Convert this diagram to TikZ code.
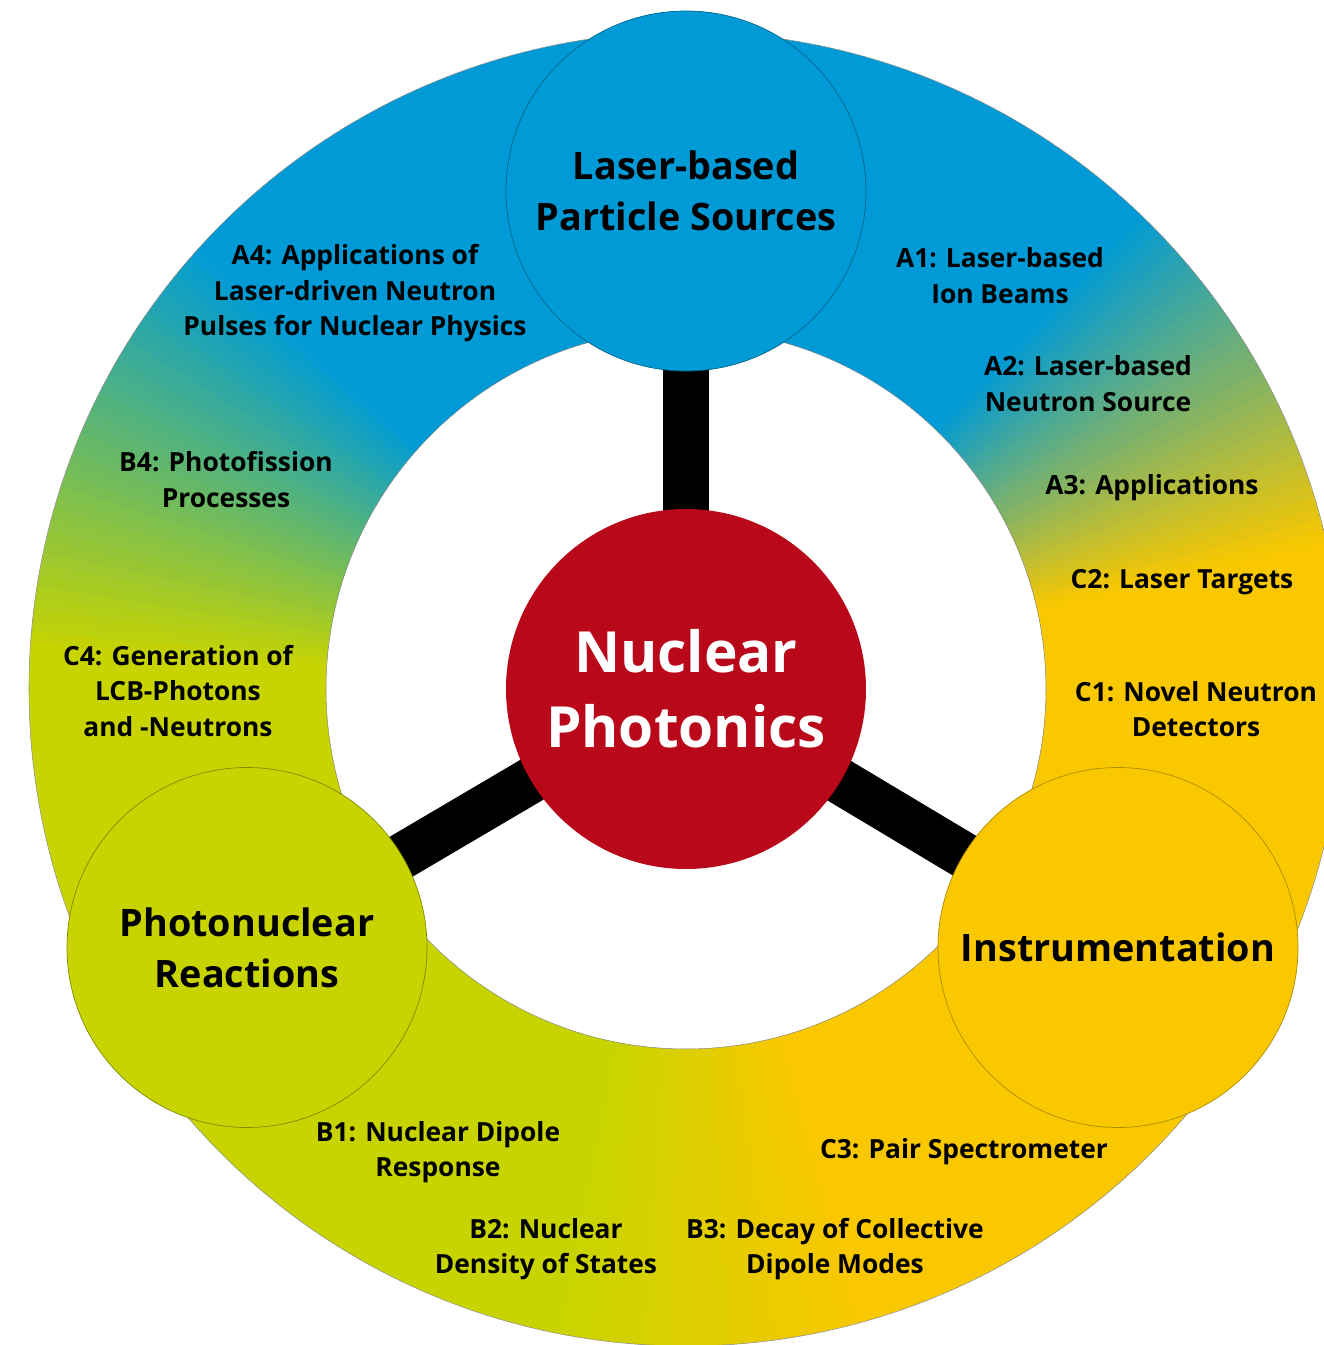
\documentclass[tikz,border=0pt]{standalone}
\usepackage{fontspec}
\setmainfont{Open Sans}
\usetikzlibrary{positioning}

\definecolor{npblue}{RGB}{0,155,214}
\definecolor{npgreen}{RGB}{200,212,0}
\definecolor{npyellow}{RGB}{249,200,0}
\definecolor{npred}{RGB}{185,8,26}

\pgfdeclarelayer{background}
\pgfsetlayers{background,main}

% colour of the ring at angle #1 (degrees)
\newcommand{\ringcolour}[1]{%
  \pgfmathtruncatemacro\zone{#1<12 ? 0 : (#1<46 ? 1 : (#1<137 ? 2 : (#1<176 ? 3 : (#1<258 ? 4 : (#1<285 ? 5 : 0)))))}%
  \ifcase\zone
    \colorlet{ringcol}{npyellow}%
  \or
    \pgfmathtruncatemacro\mix{100*(#1-12)/34}\colorlet{ringcol}{npblue!\mix!npyellow}%
  \or
    \colorlet{ringcol}{npblue}%
  \or
    \pgfmathtruncatemacro\mix{100*(#1-137)/39}\colorlet{ringcol}{npgreen!\mix!npblue}%
  \or
    \colorlet{ringcol}{npgreen}%
  \or
    \pgfmathtruncatemacro\mix{100*(#1-258)/27}\colorlet{ringcol}{npyellow!\mix!npgreen}%
  \fi}

\begin{document}
\begin{tikzpicture}[
  hub/.style={circle, minimum size=7.2cm, inner sep=0pt, align=center, line width=0.4pt,
    font=\fontsize{21.5}{29}\selectfont\bfseries},
  topic/.style={align=center, inner sep=0pt, font=\fontsize{15}{20.2}\selectfont\bfseries},
  link/.style={line width=0.92cm}
]
\useasboundingbox (-13.72,-13.12) rectangle (12.74,13.78);

% the ring, one degree at a time
\foreach \a in {0,...,359}{
  \ringcolour{\a}
  \fill[ringcol] (\a:7.2) arc[start angle=\a, end angle=\a+1.6, radius=7.2]
    -- (\a+1.6:13.14) arc[start angle=\a+1.6, end angle=\a, radius=13.14] -- cycle;
}
\draw[black!45, line width=0.3pt] (0,0) circle (13.14) (0,0) circle (7.2);

% hubs
\node[hub, fill=npred, text=white, font=\fontsize{32.3}{42.5}\selectfont\bfseries] (np) at (0,0) {Nuclear\\Photonics};
\node[hub, fill=npblue, draw=npblue!65!black] (lps) at (0,9.96) {Laser-based\\Particle Sources};
\node[hub, fill=npgreen, draw=npgreen!65!black] (phr) at (-8.78,-5.17) {Photonuclear\\Reactions};
\node[hub, fill=npyellow, draw=npyellow!70!black] (ins) at (8.64,-5.17) {Instrumentation};

\begin{pgfonlayer}{background}
\foreach \s in {lps,phr,ins}
  \draw[link] (np.center) -- (\s.center);
\end{pgfonlayer}

% projects
\node[topic] (a1) at (6.28,8.27) {A1: Laser-based\\Ion Beams};
\node[topic] (a2) at (8.04,6.11) {A2: Laser-based\\Neutron Source};
\node[topic] (a3) at (9.32,4.02) {A3: Applications};
\node[topic] (a4) at (-6.62,7.91) {A4: Applications of\\Laser-driven Neutron\\Pulses for Nuclear Physics};
\node[topic] (b1) at (-4.96,-9.26) {B1: Nuclear Dipole\\Response};
\node[topic] (b2) at (-2.8,-11.2) {B2: Nuclear\\Density of States};
\node[topic] (b3) at (2.98,-11.2) {B3: Decay of Collective\\Dipole Modes};
\node[topic] (b4) at (-9.2,4.19) {B4: Photofission\\Processes};
\node[topic] (c1) at (10.2,-0.40) {C1: Novel Neutron\\Detectors};
\node[topic] (c2) at (9.92,2.14) {C2: Laser Targets};
\node[topic] (c3) at (5.56,-9.26) {C3: Pair Spectrometer};
\node[topic] (c4) at (-10.16,-0.04) {C4: Generation of\\LCB-Photons\\and -Neutrons};
\end{tikzpicture}
\end{document}
